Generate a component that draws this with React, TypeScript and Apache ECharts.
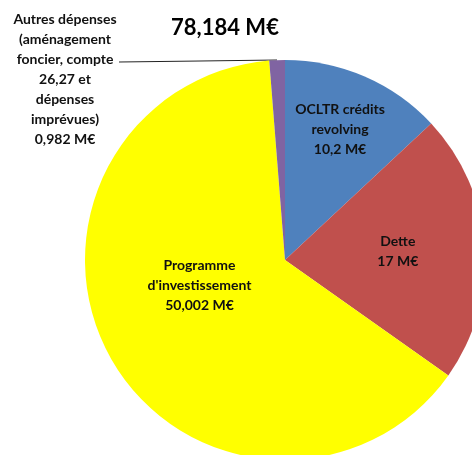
import React, { useEffect, useRef } from "react";
import * as echarts from "echarts";

const categories = [
  "OCLTR crédits\nrevolving",
  "Dette",
  "Programme\nd'investissement",
  "Autres dépenses\n(aménagement\nfoncier, compte\n26,27 et\ndépenses\nimprévues)",
];
const values = [10.2, 17, 50.002, 0.982];
const colors = ["#4F81BD", "#C0504D", "#FFFF00", "#8064A2"];

const fmt = (v: number) => String(v).replace(".", ",") + " M€";

export default function App() {
  const ref = useRef<HTMLDivElement>(null);
  useEffect(() => {
    document.body.style.margin = "0";
    const chart = echarts.init(ref.current!, null, { renderer: "svg" });
    const total = values.reduce((a, b) => a + b, 0);
    const font = "Lato, 'Open Sans', sans-serif";
    const offsets: Record<number, [number, number]> = {
      0: [14, -37],
      1: [10, -3],
      2: [4, -26],
    };
    chart.setOption({
      animation: false,
      title: {
        text: total.toFixed(3).replace(".", ",") + " M€",
        left: 220,
        top: 10,
        textAlign: "center",
        textStyle: { fontFamily: font, fontWeight: "bold", fontSize: 22, color: "#000" },
      },
      series: [
        {
          type: "pie",
          center: [285, 260],
          radius: [0, 200],
          startAngle: 90,
          clockwise: true,
          avoidLabelOverlap: false,
          data: categories.map((c, i) => ({
            name: c,
            value: values[i],
            itemStyle: { color: colors[i] },
            label: { position: i === 3 ? "outside" : "inside" },
            labelLine: { show: i === 3 },
          })),
          label: {
            show: true,
            formatter: (p: any) => p.name + "\n" + fmt(p.value),
            fontFamily: font,
            fontWeight: "bold",
            fontSize: 14,
            lineHeight: 20,
            color: "#111",
            align: "center",
          },
          labelLine: { lineStyle: { color: "#222", width: 1 } },
          labelLayout: (p: any) => {
            if (p.dataIndex === 3) {
              return {
                x: 65,
                y: 78,
                align: "center",
                verticalAlign: "middle",
                labelLinePoints: [
                  [277, 60],
                  [200, 61],
                  [119, 62],
                ],
              };
            }
            const o = offsets[p.dataIndex] || [0, 0];
            return { dx: o[0], dy: o[1] };
          },
        },
      ],
    });
    return () => chart.dispose();
  }, []);
  return (
    <div
      ref={ref}
      style={{ position: "fixed", left: 0, top: 0, width: 472, height: 455 }}
    />
  );
}
